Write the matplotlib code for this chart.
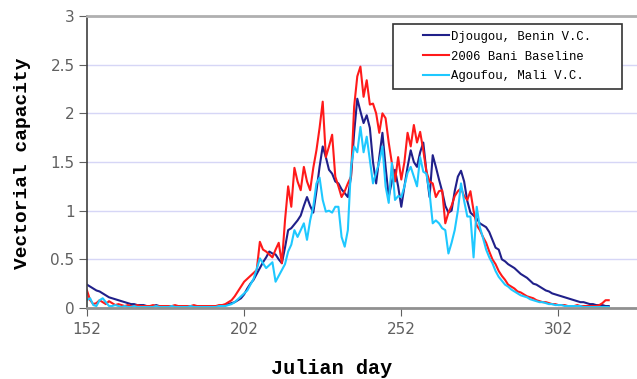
import numpy as np
import matplotlib
matplotlib.use('Agg')
import matplotlib.pyplot as plt
from matplotlib.patches import Rectangle

days = np.arange(152, 319)

djougou = [
    0.24, 0.22, 0.2, 0.18, 0.17, 0.15, 0.13, 0.11, 0.1, 0.09,
    0.08, 0.07, 0.06, 0.05, 0.04, 0.04, 0.03, 0.03, 0.03, 0.02,
    0.02, 0.02, 0.03, 0.02, 0.02, 0.02, 0.02, 0.02, 0.02, 0.02,
    0.02, 0.02, 0.02, 0.02, 0.02, 0.02, 0.02, 0.02, 0.02, 0.02,
    0.02, 0.02, 0.02, 0.03, 0.03, 0.04, 0.05, 0.06, 0.08, 0.1,
    0.14, 0.2, 0.25, 0.29, 0.35, 0.41, 0.47, 0.52, 0.58, 0.56,
    0.55, 0.5, 0.46, 0.62, 0.8, 0.82, 0.86, 0.9, 0.95, 1.05,
    1.14, 1.05, 0.98, 1.2, 1.45, 1.66, 1.55, 1.42, 1.38, 1.3,
    1.28, 1.22, 1.18, 1.14,
    1.35, 1.8, 2.15, 2.02, 1.9, 1.98, 1.85, 1.5, 1.28, 1.55,
    1.8, 1.45, 1.14, 1.3, 1.42, 1.25, 1.04, 1.25, 1.45, 1.62,
    1.5, 1.45, 1.6, 1.7, 1.4, 1.14, 1.57, 1.45, 1.32, 1.2,
    1.05, 0.98, 1.0, 1.2, 1.35, 1.41, 1.3, 1.1, 0.98, 0.95,
    0.92, 0.87, 0.85, 0.83, 0.78, 0.7, 0.62, 0.6, 0.5, 0.48,
    0.45, 0.43, 0.41, 0.38, 0.35, 0.33, 0.31, 0.28, 0.25, 0.24,
    0.22, 0.2, 0.18, 0.17, 0.15, 0.14, 0.13, 0.12, 0.11, 0.1,
    0.09, 0.08, 0.07, 0.06, 0.06, 0.05, 0.04, 0.04, 0.03, 0.03,
    0.03, 0.02, 0.02,
]

bani = [
    0.18, 0.08, 0.04, 0.05, 0.08, 0.06, 0.04, 0.07, 0.05, 0.03,
    0.04, 0.03, 0.02, 0.03, 0.02, 0.02, 0.03, 0.02, 0.02, 0.02,
    0.02, 0.03, 0.02, 0.02, 0.02, 0.02, 0.02, 0.02, 0.03, 0.02,
    0.02, 0.02, 0.02, 0.02, 0.03, 0.02, 0.02, 0.02, 0.02, 0.02,
    0.02, 0.02, 0.03, 0.03, 0.04, 0.06, 0.08, 0.12, 0.17, 0.22,
    0.27, 0.3, 0.33, 0.36, 0.39, 0.68, 0.6, 0.58, 0.55, 0.52,
    0.6, 0.67, 0.46, 0.9, 1.25, 1.04, 1.44, 1.3, 1.21, 1.45,
    1.3, 1.21, 1.44, 1.62, 1.85, 2.12, 1.55, 1.66, 1.78, 1.35,
    1.25, 1.14, 1.2, 1.28,
    1.35, 2.07, 2.38, 2.48, 2.17, 2.34, 2.09, 2.1, 2.0, 1.8,
    2.0, 1.95, 1.7, 1.49, 1.3, 1.55, 1.32, 1.5, 1.8, 1.66,
    1.88, 1.7, 1.81, 1.62, 1.4, 1.3, 1.28, 1.14, 1.2, 1.21,
    0.87, 0.98, 1.05, 1.15, 1.2, 1.23, 1.15, 1.11, 1.2, 1.0,
    0.85, 0.8, 0.73, 0.67, 0.58, 0.5, 0.45, 0.38, 0.33, 0.29,
    0.24, 0.22, 0.2, 0.17, 0.16, 0.14, 0.12, 0.11, 0.1, 0.08,
    0.07, 0.06, 0.06, 0.05, 0.04, 0.04, 0.03, 0.03, 0.03, 0.02,
    0.02, 0.02, 0.03, 0.02, 0.02, 0.02, 0.02, 0.02, 0.02, 0.03,
    0.05, 0.08, 0.08,
]

agoufou = [
    0.08, 0.1, 0.03, 0.02, 0.08, 0.1, 0.06, 0.02, 0.02, 0.03,
    0.02, 0.01, 0.02, 0.01, 0.01, 0.02, 0.01, 0.01, 0.01, 0.01,
    0.01, 0.01, 0.02, 0.01, 0.01, 0.01, 0.01, 0.02, 0.01, 0.01,
    0.01, 0.01, 0.01, 0.02, 0.01, 0.01, 0.01, 0.01, 0.01, 0.01,
    0.01, 0.01, 0.02, 0.02, 0.02, 0.03, 0.04, 0.06, 0.09, 0.12,
    0.15, 0.18, 0.24, 0.3, 0.4, 0.51, 0.46, 0.41, 0.44, 0.47,
    0.27, 0.33, 0.39, 0.45, 0.58, 0.65, 0.8, 0.73, 0.8, 0.87,
    0.7, 0.9, 1.04, 1.28, 1.34, 1.11, 0.99, 1.0, 0.98, 1.04,
    1.04, 0.73, 0.63, 0.8,
    1.45, 1.66, 1.6, 1.86, 1.6, 1.76, 1.52, 1.28, 1.39, 1.5,
    1.66, 1.25, 1.08, 1.49, 1.11, 1.15, 1.14, 1.25, 1.39, 1.45,
    1.35, 1.25, 1.55, 1.4, 1.38, 1.18, 0.87, 0.9, 0.87, 0.82,
    0.8, 0.56, 0.67, 0.8, 1.0, 1.28, 1.1, 0.94, 0.94, 0.52,
    1.04, 0.83, 0.72, 0.6, 0.52, 0.46, 0.38, 0.32, 0.28, 0.24,
    0.22, 0.19, 0.17, 0.15, 0.13, 0.12, 0.11, 0.09, 0.08, 0.07,
    0.06, 0.06, 0.05, 0.04, 0.04, 0.03, 0.03, 0.03, 0.02, 0.02,
    0.02, 0.02, 0.02, 0.02, 0.01, 0.01, 0.01, 0.01, 0.01, 0.01,
    0.01, 0.01, 0.01,
]

series_names = ['Djougou, Benin V.C.', '2006 Bani Baseline', 'Agoufou, Mali V.C.']
series_colors = ['#20208a', '#ff1a1a', '#1ec8ff']
xticks = [152, 202, 252, 302]
yticks = [0, 0.5, 1, 1.5, 2, 2.5, 3]
ytick_labels = ['0', '0.5', '1', '1.5', '2', '2.5', '3']

mono = 'Liberation Mono'

fig = plt.figure(figsize=(6.37, 3.79), dpi=100)
ax = fig.add_axes([87 / 637, 1 - 308 / 379, 1 - 87 / 637, (308 - 16) / 379])

for vals, name, col in zip([djougou, bani, agoufou], series_names, series_colors):
    ax.plot(days, vals, color=col, lw=1.5, label=name)

ax.set_xlim(152, 327)
ax.set_ylim(0, 3)
ax.set_xticks(xticks)
ax.set_yticks(yticks)
ax.set_yticklabels(ytick_labels)
ax.yaxis.grid(True, color='#d6d6f6', lw=1)
ax.set_axisbelow(True)

ax.spines['right'].set_visible(False)
ax.spines['top'].set_color('#b0b0b0')
ax.spines['top'].set_linewidth(2)
ax.spines['bottom'].set_color('#909090')
ax.spines['bottom'].set_linewidth(2)
ax.spines['left'].set_color('#404040')
ax.spines['left'].set_linewidth(1.2)
ax.tick_params(axis='both', direction='out', length=6, color='#606060', labelcolor='#606060', labelsize=11)
ax.tick_params(axis='x', pad=4)
ax.tick_params(axis='y', pad=3)

fig.text(332 / 637, 1 - 369 / 379, 'Julian day', family=mono, weight='bold', fontsize=14.5,
         ha='center', va='center')
fig.text(23 / 637, 1 - 163 / 379, 'Vectorial capacity', family=mono, weight='bold', fontsize=14,
         ha='center', va='center', rotation=90)

fig.patches.append(Rectangle((393 / 637, 1 - 89 / 379), (622 - 393) / 637, (89 - 24) / 379,
                             transform=fig.transFigure, fill=True, facecolor='white',
                             edgecolor='#333333', lw=1.2, zorder=5))
leg = fig.legend(loc='center', bbox_to_anchor=(507 / 637, 1 - 56.5 / 379), frameon=False,
                 prop={'family': mono, 'size': 8.8}, handlelength=2.2, handletextpad=0.15,
                 labelspacing=0.65)
leg.set_zorder(6)

fig.savefig('out.png', dpi=100)
